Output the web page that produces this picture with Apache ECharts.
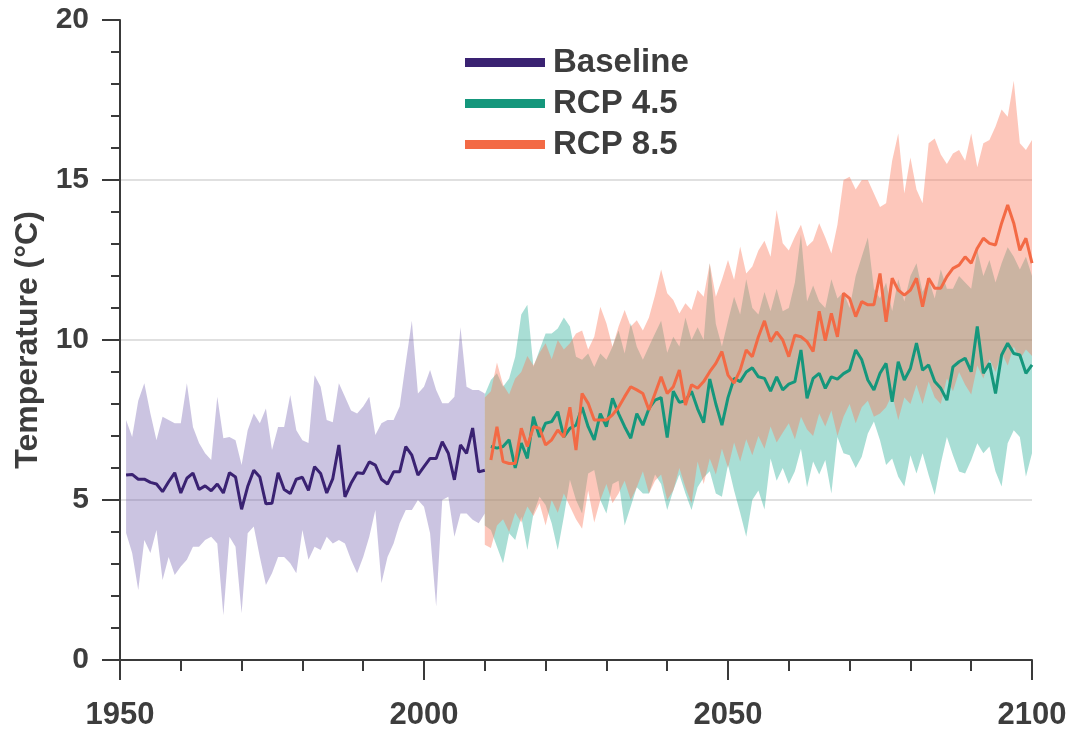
<!DOCTYPE html>
<html><head><meta charset="utf-8">
<script src="https://cdn.jsdelivr.net/npm/echarts@6/dist/echarts.min.js"></script>
<style>html,body{margin:0;padding:0;background:#fff}#c{width:1073px;height:732px}</style>
</head><body><div id="c"></div>
<script>
// ---- data ----
const firstYear = 1950, lastYear = 2100;
const baselineStart = 1951;
const rcpStart = 2011;       // projected means
const rcpBandStart = 2010;   // projected ranges
const xTickLabels = ['1950', '2000', '2050', '2100'];

const baselineMean = [
 5.78,5.80,5.65,5.65,5.55,5.50,5.26,5.57,5.85,5.22,
 5.68,5.84,5.33,5.44,5.29,5.50,5.22,5.85,5.72,4.71,
 5.42,5.93,5.72,4.88,4.90,5.85,5.33,5.20,5.65,5.71,
 5.30,6.04,5.83,5.22,5.67,6.72,5.10,5.52,5.85,5.83,
 6.19,6.09,5.65,5.50,5.88,5.88,6.67,6.40,5.78,6.04,
 6.30,6.30,6.82,6.46,5.63,6.72,6.46,7.25,5.88,5.93];
const baselineUpper = [
 7.50,6.97,8.10,8.65,7.70,6.87,7.60,7.50,7.40,7.40,
 8.65,7.28,6.78,6.46,6.25,8.23,6.93,6.97,6.87,6.09,
 7.18,7.70,7.40,7.86,6.56,7.28,7.28,8.28,7.18,6.87,
 6.78,8.90,8.54,7.50,7.43,8.65,8.23,7.80,7.70,7.92,
 8.23,7.03,7.40,7.50,7.50,7.92,9.28,10.60,8.33,8.54,
 9.06,8.44,8.02,8.02,8.23,10.40,8.54,8.44,8.44,8.33];
const baselineLower = [
 3.97,3.34,2.19,3.75,3.34,4.06,2.50,3.22,2.66,2.92,
 3.13,3.54,3.54,3.75,3.85,3.64,1.40,3.85,3.54,1.46,
 3.96,4.17,3.22,2.34,2.71,3.22,3.22,3.02,2.71,4.06,
 3.13,3.54,3.44,3.85,3.64,3.75,3.64,3.13,2.71,3.22,
 3.85,4.69,2.40,3.22,3.64,4.27,4.69,4.69,5.00,4.79,
 3.96,1.67,5.00,5.10,3.85,4.58,4.58,4.38,4.27,4.58];

const rcp45Mean = [
 6.67,6.62,6.67,6.88,6.00,6.78,6.30,7.60,6.97,7.40,
 7.45,7.76,6.97,7.24,7.34,7.90,7.29,6.88,7.70,7.29,
 8.18,7.70,7.29,6.93,7.70,7.34,7.86,8.12,8.20,
 6.95,8.40,8.05,8.10,8.40,7.85,7.42,8.78,8.00,7.34,
 8.20,8.80,8.70,9.00,9.13,8.85,8.80,8.40,8.85,8.44,
 8.62,8.70,9.69,8.18,8.80,8.96,8.49,8.85,8.78,8.95,
 9.06,9.69,9.38,8.75,8.44,8.96,9.27,8.07,9.32,8.75,
 9.11,9.90,9.06,9.22,8.70,8.49,8.12,9.16,9.32,9.43,
 9.01,10.42,8.96,9.27,8.33,9.53,9.90,9.58,9.53,8.96,9.22];
const rcp45Upper = [8.30,
 8.75,8.96,8.54,8.80,9.48,10.80,11.10,9.16,9.69,10.20,
 10.20,10.36,10.70,10.42,9.48,9.38,9.58,9.16,9.58,9.38,
 9.79,10.30,9.58,10.52,9.79,9.38,9.80,10.20,10.60,
 9.60,10.10,9.80,10.70,10.00,10.40,10.00,12.40,10.50,9.80,
 10.60,11.35,10.80,11.90,11.00,10.80,11.50,10.90,11.60,10.90,
 11.00,11.80,13.30,11.20,11.70,11.20,11.00,11.90,11.30,11.50,
 11.00,12.00,12.60,13.20,11.60,11.30,11.80,10.90,11.90,11.20,
 12.00,12.40,11.50,11.90,11.30,12.20,11.60,11.60,12.00,11.80,
 11.60,12.80,12.00,12.50,11.80,12.40,12.90,12.60,12.20,12.60,12.00];
const rcp45Lower = [4.20,
 4.06,3.54,3.02,3.96,3.75,4.48,3.44,4.58,5.10,4.84,
 4.27,3.44,4.48,5.63,5.00,4.58,5.83,5.94,5.00,4.58,
 5.50,5.60,4.20,4.80,5.40,5.20,5.20,5.80,5.50,
 4.69,5.30,5.80,5.20,4.69,5.40,5.70,5.90,5.20,5.10,
 6.10,5.30,4.60,3.85,5.00,5.30,4.70,6.30,5.60,6.00,
 5.50,5.90,6.60,5.40,6.20,5.80,6.25,5.20,6.97,6.46,
 6.40,6.00,6.35,7.08,7.45,6.87,6.09,6.30,5.73,5.42,
 6.40,5.83,6.46,5.78,5.16,6.14,6.97,6.40,5.89,5.83,
 6.25,6.77,6.46,6.67,5.89,5.42,6.77,7.18,6.97,5.73,6.46];

const rcp85Mean = [
 6.25,7.29,6.20,6.14,6.14,7.24,6.67,7.29,7.24,6.72,
 6.88,7.19,6.97,7.90,6.56,8.33,8.02,7.50,7.50,7.50,
 7.66,7.90,8.23,8.54,8.44,8.33,7.81,8.33,8.85,
 8.33,8.54,9.06,7.97,8.60,8.49,8.70,9.01,9.27,9.64,
 8.90,8.65,9.06,9.69,9.48,10.10,10.60,9.95,10.25,10.00,
 9.48,10.15,10.10,9.95,9.64,10.90,9.98,10.83,10.10,11.46,
 11.30,10.73,11.20,11.10,11.10,12.08,10.57,11.93,11.56,11.40,
 11.56,11.93,11.04,11.93,11.62,11.62,11.98,12.24,12.34,12.60,
 12.40,12.87,13.18,13.02,12.97,13.65,14.22,13.65,12.80,13.18,12.40];
const rcp85Upper = [8.20,
 8.40,9.30,8.60,8.30,8.80,9.00,9.50,9.20,9.60,9.90,
 9.40,10.00,9.70,9.90,10.20,10.30,9.70,10.10,11.04,10.52,
 9.79,10.42,10.94,10.42,10.62,10.30,10.70,11.40,12.20,
 11.46,11.25,10.83,11.15,10.94,11.56,11.35,12.40,11.35,11.88,
 12.50,11.88,12.92,12.08,12.30,12.80,13.10,12.60,14.06,13.02,
 12.80,13.23,13.60,12.92,13.10,13.65,13.20,12.70,13.60,15.00,
 15.10,14.70,15.00,15.00,14.58,14.16,14.27,15.60,16.45,14.58,
 15.70,14.70,14.27,16.15,16.30,15.80,15.50,15.83,15.94,15.60,
 16.45,15.40,16.15,16.25,16.67,17.20,16.98,18.10,16.15,15.94,16.25];
const rcp85Lower = [3.60,
 3.50,4.20,4.40,4.00,4.60,4.30,4.80,4.50,4.90,4.20,
 5.00,4.60,5.20,4.80,4.40,4.10,5.30,4.30,5.00,5.50,
 4.90,5.20,5.60,5.00,5.40,5.90,5.20,5.60,5.80,
 5.00,5.30,6.00,5.40,4.90,6.20,5.50,6.30,5.80,6.60,
 6.00,6.80,6.20,6.90,6.40,7.00,6.60,7.30,6.80,7.10,
 7.40,6.90,7.60,7.20,7.00,7.70,7.30,7.80,7.00,7.60,
 8.00,7.40,7.90,8.10,7.60,7.70,7.90,8.30,7.50,8.20,
 8.00,8.60,8.00,8.70,8.20,8.00,8.80,8.40,9.00,8.60,
 8.30,9.20,8.80,9.40,9.00,9.60,9.20,9.80,9.40,9.70,9.50];

// ---- helpers ----
const categories = [];
for (let y = firstYear; y <= lastYear; y++) categories.push(String(y));
const pairs = (start, arr) => arr.map((v, i) => [String(start + i), v]);
const diff = (start, hi, lo) => hi.map((v, i) => [String(start + i), +(v - lo[i]).toFixed(3)]);

const C = {
  base: '#3a2272', baseBand: 'rgba(112,92,172,0.36)',
  r45: '#15977c', r45Band: 'rgba(40,172,150,0.40)',
  r85: '#f36a45', r85Band: 'rgba(250,122,92,0.42)'
};
const txt = '#3d3d3d';
const axisC = '#3a3a3a';
const FONT = '"Liberation Sans", Arial, sans-serif';

function band(id, start, hi, lo, color) {
  return [
    { type: 'line', name: id + 'Lo', stack: id, data: pairs(start, lo), symbol: 'none',
      lineStyle: { width: 0, opacity: 0 }, silent: true, z: 1, animation: false },
    { type: 'line', name: id + 'Hi', stack: id, data: diff(start, hi, lo), symbol: 'none',
      lineStyle: { width: 0, opacity: 0 }, areaStyle: { color: color, opacity: 1 }, silent: true, z: 1, animation: false }
  ];
}
function meanLine(name, start, arr, color, z) {
  return { type: 'line', name: name, data: pairs(start, arr), symbol: 'none', color: color,
    lineStyle: { color: color, width: 3 }, z: z, animation: false };
}

const chart = echarts.init(document.getElementById('c'), null, { renderer: 'canvas' });
chart.setOption({
  animation: false,
  backgroundColor: '#fff',
  textStyle: { fontFamily: FONT },
  grid: { left: 120, right: 41, top: 20, bottom: 72, containLabel: false, outerBoundsMode: 'none' },
  legend: {
    data: ['Baseline', 'RCP 4.5', 'RCP 8.5'],
    orient: 'vertical', left: 460, top: 41,
    icon: 'rect', itemWidth: 80, itemHeight: 9, itemGap: 8,
    textStyle: { fontFamily: FONT, fontWeight: 'bold', fontSize: 33, color: txt, lineHeight: 33, padding: [0, 0, 0, 3] }
  },
  xAxis: [{
    type: 'category', data: categories, boundaryGap: false,
    axisLine: { lineStyle: { color: axisC, width: 2 } },
    axisTick: { interval: 9, length: 11, lineStyle: { color: axisC, width: 2 } },
    axisLabel: { interval: 49, margin: 40, fontFamily: FONT, fontWeight: 'bold', fontSize: 31, color: txt,
      formatter: v => (xTickLabels.indexOf(v) >= 0 ? v : '') },
    splitLine: { show: false }
  }, {
    type: 'category', data: categories, boundaryGap: false, position: 'bottom', gridIndex: 0,
    axisLine: { show: false },
    axisTick: { interval: 49, length: 20, lineStyle: { color: axisC, width: 2 } },
    axisLabel: { show: false }, splitLine: { show: false }
  }],
  yAxis: {
    type: 'value', min: 0, max: 20, interval: 5,
    name: 'Temperature (°C)', nameLocation: 'middle', nameGap: 76,
    nameTextStyle: { fontFamily: FONT, fontWeight: 'bold', fontSize: 32, color: txt },
    axisLine: { show: true, lineStyle: { color: axisC, width: 2 } },
    axisTick: { show: true, length: 18, lineStyle: { color: axisC, width: 2 } },
    minorTick: { show: true, splitNumber: 5, length: 9, lineStyle: { color: axisC, width: 2 } },
    axisLabel: { margin: 31, fontFamily: FONT, fontWeight: 'bold', fontSize: 30, color: txt },
    splitLine: { show: true, showMinLine: false, showMaxLine: false, lineStyle: { color: '#d6d6d6', width: 1.5 } },
    minorSplitLine: { show: false }
  },
  series: [
    ...band('bb', baselineStart, baselineUpper, baselineLower, C.baseBand),
    ...band('b45', rcpBandStart, rcp45Upper, rcp45Lower, C.r45Band),
    ...band('b85', rcpBandStart, rcp85Upper, rcp85Lower, C.r85Band),
    meanLine('Baseline', baselineStart, baselineMean, C.base, 5),
    meanLine('RCP 4.5', rcpStart, rcp45Mean, C.r45, 6),
    meanLine('RCP 8.5', rcpStart, rcp85Mean, C.r85, 7)
  ]
});
</script></body></html>
